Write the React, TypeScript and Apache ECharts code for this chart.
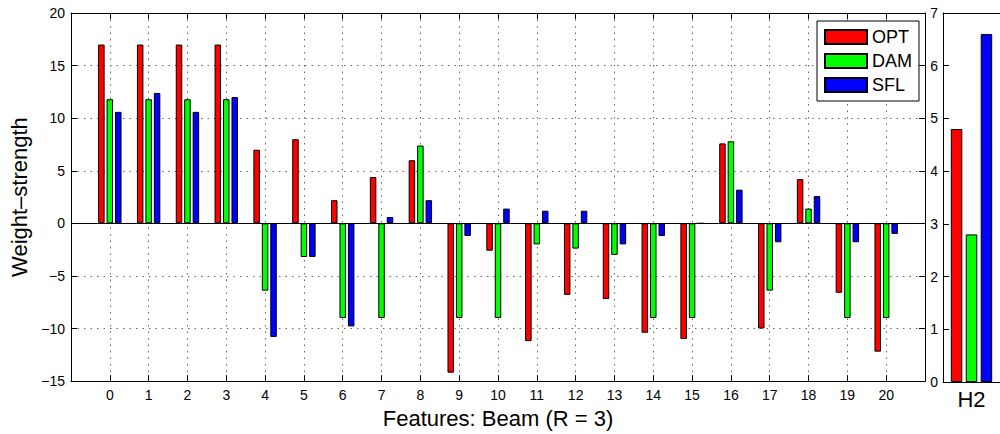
import React, { useEffect, useRef } from "react";
import * as echarts from "echarts";

const features = [0, 1, 2, 3, 4, 5, 6, 7, 8, 9, 10, 11, 12, 13, 14, 15, 16, 17, 18, 19, 20];
const optValues = [17, 17, 17, 17, 7, 8, 2.2, 4.4, 6, -14.2, -2.6, -11.2, -6.8, -7.2, -10.4, -11, 7.6, -10, 4.2, -6.6, -12.2];
const damValues = [11.8, 11.8, 11.8, 11.8, -6.4, -3.2, -9, -9, 7.4, -9, -9, -2, -2.4, -3, -9, -9, 7.8, -6.4, 1.4, -9, -9];
const sflValues = [10.6, 12.4, 10.6, 12, -10.8, -3.2, -9.8, 0.6, 2.2, -1.2, 1.4, 1.2, 1.2, -2, -1.2, 0, 3.2, -1.8, 2.6, -1.8, -1];
const h2Category = ["H2"];
const h2Opt = [4.8];
const h2Dam = [2.8];
const h2Sfl = [6.6];
const seriesNames = ["OPT", "DAM", "SFL"];
const seriesColors = ["#ff0000", "#00ff00", "#0000ff"];

const FONT = "'Liberation Sans', Arial, Helvetica, sans-serif";
const fmt = (v: number) => (v < 0 ? "\u2212" + Math.abs(v) : String(v));

export default function App() {
  const ref = useRef<HTMLDivElement>(null);
  useEffect(() => {
    if (!ref.current) return;
    const chart = echarts.init(ref.current, undefined, { renderer: "svg" });
    const dotted = { show: true, lineStyle: { color: "#666", type: [1.5, 5] as any, width: 1 } };
    const axisLine = { show: true, onZero: false, lineStyle: { color: "#000", width: 1 } };
    const inTick = { show: true, inside: true, length: 6, lineStyle: { color: "#000" } };
    const mainData = [optValues, damValues, sflValues];
    const h2Data = [h2Opt, h2Dam, h2Sfl];
    const mainSeries = mainData.map((vals, k) => ({
      name: seriesNames[k],
      type: "bar",
      xAxisIndex: 0,
      yAxisIndex: 0,
      barWidth: 6.5,
      barGap: "30%",
      itemStyle: { color: seriesColors[k], borderColor: "#000", borderWidth: 1 },
      data: features.map((f, i) => [f, vals[i]]),
      ...(k === 0
        ? {
            markLine: {
              silent: true,
              symbol: ["none", "none"],
              label: { show: false },
              lineStyle: { color: "#000", type: "solid", width: 1 },
              data: [{ yAxis: 0 }],
            },
          }
        : {}),
    }));
    const h2Series = h2Data.map((vals, k) => ({
      name: seriesNames[k],
      type: "bar",
      xAxisIndex: 2,
      yAxisIndex: 2,
      barWidth: 11.5,
      barGap: "30%",
      itemStyle: { color: seriesColors[k], borderColor: "#000", borderWidth: 1 },
      data: vals,
    }));
    chart.setOption({
      animation: false,
      textStyle: { fontFamily: FONT },
      grid: [
        { left: 71, top: 13, width: 854, height: 369 },
        { left: 943, top: 13, width: 62, height: 369 },
      ],
      legend: {
        data: seriesNames,
        orient: "vertical",
        left: 817,
        top: 21,
        padding: [7, 7, 7, 7],
        itemWidth: 42,
        itemHeight: 14,
        itemGap: 6,
        icon: "rect",
        backgroundColor: "#fff",
        borderColor: "#000",
        borderWidth: 1,
        textStyle: { fontSize: 18, color: "#000", lineHeight: 14, fontFamily: FONT },
      },
      xAxis: [
        {
          gridIndex: 0,
          type: "value",
          min: -1,
          max: 21,
          interval: 1,
          position: "bottom",
          name: "Features: Beam (R = 3)",
          nameLocation: "middle",
          nameGap: 23,
          nameTextStyle: { fontSize: 22, color: "#000", lineHeight: 22 },
          axisLine,
          axisTick: inTick,
          axisLabel: {
            fontSize: 14,
            color: "#000",
            margin: 7,
            formatter: (v: number) => (v < 0 || v > 20 ? "" : String(v)),
          },
          splitLine: dotted,
        },
        {
          gridIndex: 0,
          type: "value",
          min: -1,
          max: 21,
          interval: 1,
          position: "top",
          axisLine,
          axisTick: inTick,
          axisLabel: { show: false },
          splitLine: { show: false },
        },
        {
          gridIndex: 1,
          type: "category",
          data: h2Category,
          position: "bottom",
          axisLine,
          axisTick: { show: false },
          axisLabel: { fontSize: 22, color: "#000", margin: 6 },
          splitLine: { show: false },
        },
        {
          gridIndex: 1,
          type: "category",
          data: h2Category,
          position: "top",
          axisLine,
          axisTick: { show: false },
          axisLabel: { show: false },
        },
      ],
      yAxis: [
        {
          gridIndex: 0,
          type: "value",
          min: -15,
          max: 20,
          interval: 5,
          position: "left",
          name: "Weight\u2013strength",
          nameLocation: "middle",
          nameRotate: 90,
          nameGap: 36,
          nameTextStyle: { fontSize: 22, color: "#000", lineHeight: 22 },
          axisLine,
          axisTick: inTick,
          axisLabel: { fontSize: 14, color: "#000", margin: 6, formatter: fmt },
          splitLine: dotted,
        },
        {
          gridIndex: 0,
          type: "value",
          min: -15,
          max: 20,
          interval: 5,
          position: "right",
          axisLine,
          axisTick: inTick,
          axisLabel: { show: false },
          splitLine: { show: false },
        },
        {
          gridIndex: 1,
          type: "value",
          min: 0,
          max: 7,
          interval: 1,
          position: "left",
          axisLine,
          axisTick: inTick,
          axisLabel: { fontSize: 14, color: "#000", margin: 5 },
          splitLine: { show: false },
        },
      ],
      series: [...mainSeries, ...h2Series],
    } as any);
    return () => chart.dispose();
  }, []);
  return (
    <div
      ref={ref}
      style={{ position: "fixed", left: 0, top: 0, width: 1000, height: 434, background: "#fff" }}
    />
  );
}
